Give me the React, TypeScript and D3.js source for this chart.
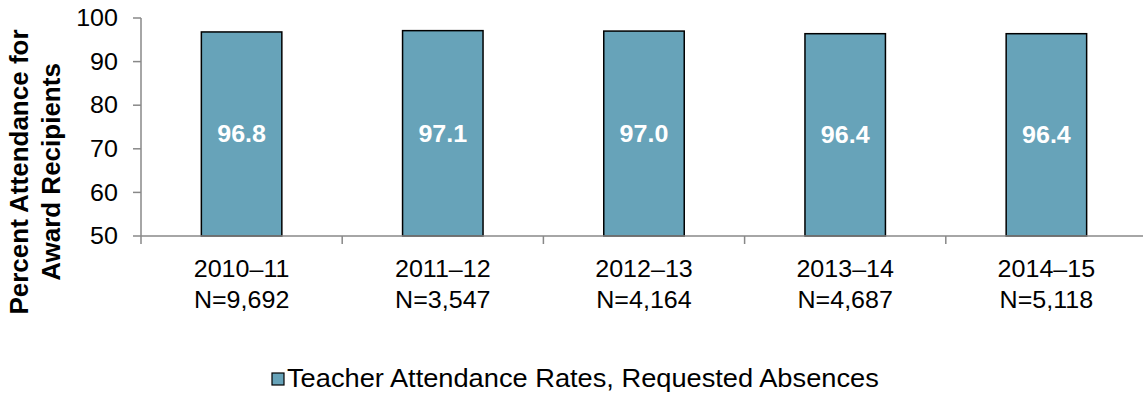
import React from "react";
import * as d3 from "d3";

const categories = ["2010–11", "2011–12", "2012–13", "2013–14", "2014–15"];
const sampleSizes = ["N=9,692", "N=3,547", "N=4,164", "N=4,687", "N=5,118"];
const attendance = [96.8, 97.1, 97.0, 96.4, 96.4];
const yTicks = [50, 60, 70, 80, 90, 100];
const seriesName = "Teacher Attendance Rates, Requested Absences";
const yTitle = ["Percent Attendance for", "Award Recipients"];

const W = 1143;
const H = 395;
const left = 141;
const right = 1147;
const top = 18;
const bottom = 236;
const font = "Liberation Sans, Arial, sans-serif";
const barFill = "#67A3B9";
const axisColor = "#888888";
// glyphs are drawn slightly wide
const SX = 1.09;

type LabelProps = {
  x: number;
  y: number;
  size: number;
  anchor?: "start" | "middle" | "end";
  bold?: boolean;
  fill?: string;
  dy?: string;
  children: React.ReactNode;
};

function Label({ x, y, size, anchor = "start", bold = false, fill = "#000", dy, children }: LabelProps) {
  return (
    <text
      transform={`translate(${x},${y}) scale(${SX},1)`}
      textAnchor={anchor}
      fontSize={size}
      fontWeight={bold ? "bold" : "normal"}
      fill={fill}
      dy={dy}
    >
      {children}
    </text>
  );
}

export default function App() {
  const x = d3.scaleBand<string>().domain(categories).range([left, right]).paddingInner(0.6).paddingOuter(0.3);
  const band = d3.scaleBand<string>().domain(categories).range([left, right]);
  const y = d3.scaleLinear().domain([50, 100]).range([bottom, top]);

  return (
    <svg width={W} height={H} style={{ position: "absolute", left: 0, top: 0 }} fontFamily={font}>
      {/* y axis */}
      <line x1={left} x2={left} y1={top} y2={bottom} stroke={axisColor} strokeWidth={1.5} />
      {yTicks.map((t) => (
        <g key={t}>
          <line x1={left - 8} x2={left} y1={y(t)} y2={y(t)} stroke={axisColor} strokeWidth={1.5} />
          <Label x={118} y={y(t)} dy="0.36em" anchor="end" size={23}>
            {t}
          </Label>
        </g>
      ))}

      {/* bars with centred value labels */}
      {categories.map((c, i) => {
        const bx = x(c)!;
        const bw = x.bandwidth();
        const by = y(attendance[i]);
        return (
          <g key={c}>
            <rect x={bx} y={by} width={bw} height={bottom - by} fill={barFill} stroke="#000" strokeWidth={1.5} />
            <Label x={bx + bw / 2} y={(by + bottom) / 2} dy="0.36em" anchor="middle" size={23} bold fill="#fff">
              {attendance[i].toFixed(1)}
            </Label>
          </g>
        );
      })}

      {/* x axis */}
      <line x1={left} x2={right} y1={bottom} y2={bottom} stroke={axisColor} strokeWidth={1.5} />
      {categories.map((c) => (
        <line key={"t" + c} x1={band(c)!} x2={band(c)!} y1={bottom} y2={bottom + 8} stroke={axisColor} strokeWidth={1.5} />
      ))}
      {categories.map((c, i) => {
        const cx = band(c)! + band.bandwidth() / 2;
        return (
          <g key={"l" + c}>
            <Label x={cx} y={277} anchor="middle" size={23}>
              {c}
            </Label>
            <Label x={cx} y={308} anchor="middle" size={23}>
              {sampleSizes[i]}
            </Label>
          </g>
        );
      })}

      {/* y axis title */}
      <text transform="translate(28,172) rotate(-90)" textAnchor="middle" fontSize={26} fontWeight="bold" fill="#000">
        {yTitle[0]}
      </text>
      <text transform="translate(60,172) rotate(-90)" textAnchor="middle" fontSize={26} fontWeight="bold" fill="#000">
        {yTitle[1]}
      </text>

      {/* legend */}
      <rect x={272} y={373} width={12} height={12} fill={barFill} stroke="#000" strokeWidth={1.2} />
      <Label x={287} y={387} size={25}>
        {seriesName}
      </Label>
    </svg>
  );
}
